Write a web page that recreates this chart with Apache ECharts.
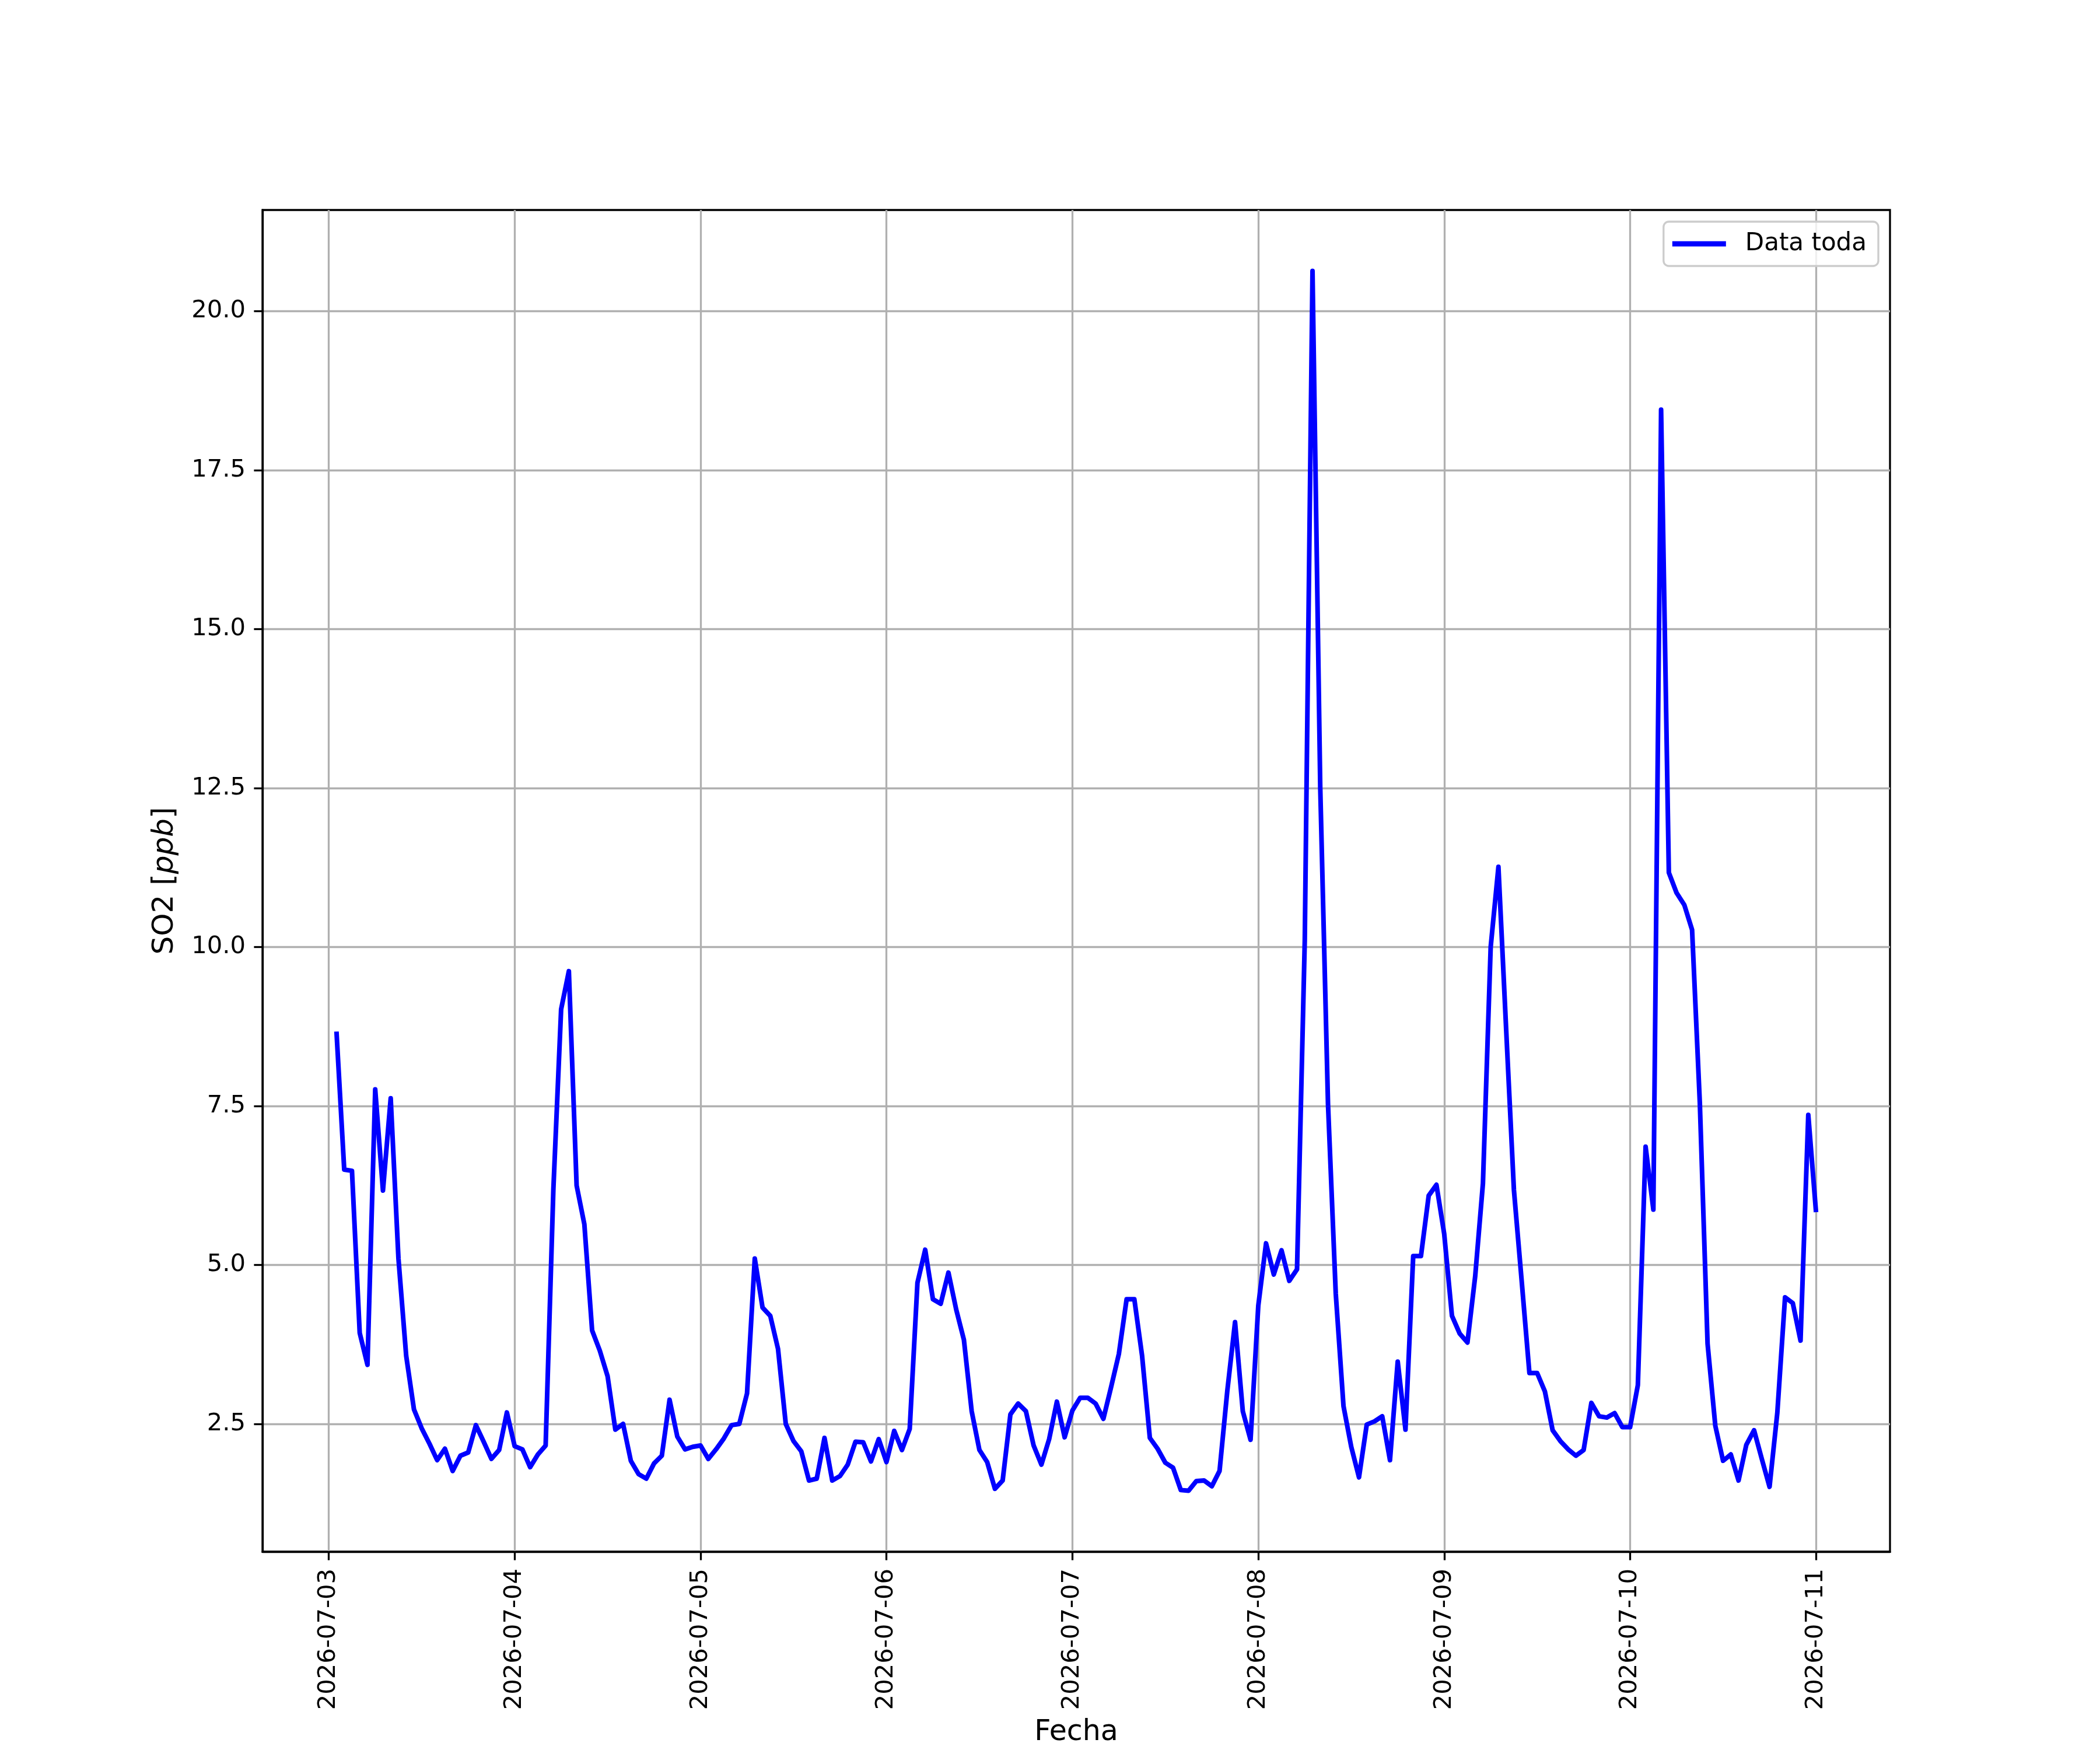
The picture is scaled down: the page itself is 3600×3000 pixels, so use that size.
<!DOCTYPE html>
<html>
<head>
<meta charset="utf-8">
<script src="https://cdn.jsdelivr.net/npm/echarts@6/dist/echarts.min.js"></script>
<style>
html,body{margin:0;padding:0;background:#fff;}
#chart{width:3600px;height:3000px;}
</style>
</head>
<body>
<div id="chart"></div>
<script>
// Hourly SO2 values (ppb), from 2026-07-03 01:00 to 2026-07-11 00:00
const day0703 = [8.67, 6.50, 6.48, 3.93, 3.43, 7.76, 6.17, 7.62, 5.10, 3.57, 2.73, 2.43, 2.19, 1.93, 2.11, 1.76, 2.00, 2.05, 2.48, 2.22, 1.95, 2.09, 2.68, 2.15];
const day0704 = [2.10, 1.82, 2.02, 2.16, 6.19, 9.02, 9.62, 6.25, 5.64, 3.97, 3.65, 3.25, 2.41, 2.50, 1.92, 1.71, 1.64, 1.88, 2.00, 2.88, 2.30, 2.10, 2.14, 2.16];
const day0705 = [1.95, 2.10, 2.27, 2.48, 2.50, 2.98, 5.10, 4.33, 4.20, 3.68, 2.50, 2.23, 2.07, 1.61, 1.64, 2.28, 1.61, 1.68, 1.86, 2.22, 2.21, 1.91, 2.26, 1.90];
const day0706 = [2.39, 2.09, 2.42, 4.72, 5.24, 4.46, 4.39, 4.88, 4.30, 3.82, 2.70, 2.09, 1.90, 1.48, 1.61, 2.65, 2.82, 2.70, 2.16, 1.86, 2.26, 2.85, 2.29, 2.71];
const day0707 = [2.91, 2.91, 2.82, 2.58, 3.08, 3.60, 4.46, 4.46, 3.57, 2.28, 2.11, 1.89, 1.81, 1.46, 1.45, 1.60, 1.61, 1.52, 1.76, 3.02, 4.10, 2.70, 2.25, 4.36];
const day0708 = [5.34, 4.85, 5.23, 4.75, 4.93, 10.10, 20.63, 12.50, 7.53, 4.55, 2.78, 2.14, 1.66, 2.49, 2.54, 2.62, 1.93, 3.48, 2.41, 5.14, 5.14, 6.09, 6.26, 5.49];
const day0709 = [4.20, 3.92, 3.78, 4.82, 6.28, 10.00, 11.26, 8.70, 6.18, 4.75, 3.30, 3.30, 3.01, 2.40, 2.23, 2.10, 2.00, 2.09, 2.83, 2.62, 2.60, 2.67, 2.45, 2.45];
const day0710 = [3.11, 6.86, 5.87, 18.45, 11.17, 10.85, 10.66, 10.27, 7.55, 3.76, 2.47, 1.92, 2.02, 1.61, 2.17, 2.40, 1.95, 1.51, 2.67, 4.49, 4.40, 3.81, 7.36, 5.83];

const so2Values = [].concat(day0703, day0704, day0705, day0706, day0707, day0708, day0709, day0710);
const startTime = Date.UTC(2026, 6, 3, 1, 0, 0);
const HOUR = 3600 * 1000;
const times = so2Values.map((_, i) => startTime + i * HOUR);

const xTickLabels = ['2026-07-03', '2026-07-04', '2026-07-05', '2026-07-06', '2026-07-07', '2026-07-08', '2026-07-09', '2026-07-10', '2026-07-11'];
const yTickValues = [2.5, 5.0, 7.5, 10.0, 12.5, 15.0, 17.5, 20.0];
const seriesName = 'Data toda';

const xTickValues = xTickLabels.map(s => Date.parse(s + 'T00:00:00Z'));

// matplotlib-like 5% margins
const tMin = times[0], tMax = times[times.length - 1];
const xPad = (tMax - tMin) * 0.05;
const vMin = Math.min(...so2Values), vMax = Math.max(...so2Values);
const yPad = (vMax - vMin) * 0.05;

const FONT = 'DejaVu Sans';
const LW = 3.3;

const chart = echarts.init(document.getElementById('chart'), null, {renderer: 'canvas'});
chart.setOption({
  animation: false,
  backgroundColor: '#ffffff',
  grid: {
    left: 450, right: 360, top: 360, bottom: 330,
    show: true, borderColor: '#000', borderWidth: LW, backgroundColor: 'transparent',
    containLabel: false
  },
  legend: {
    show: true,
    data: [seriesName],
    right: 380, top: 380,
    orient: 'vertical',
    icon: 'rect',
    itemWidth: 92, itemHeight: 9,
    padding: [17, 20, 17, 15],
    backgroundColor: 'rgba(255,255,255,0.8)',
    borderColor: '#cccccc', borderWidth: LW, borderRadius: 9,
    textStyle: {fontFamily: FONT, fontSize: 42, color: '#000', lineHeight: 42, padding: [0, 0, 0, 28]}
  },
  xAxis: {
    type: 'value',
    min: tMin - xPad, max: tMax + xPad,
    axisLine: {show: true, onZero: false, lineStyle: {color: '#000', width: LW}},
    axisTick: {show: true, length: 14.6, inside: false, customValues: xTickValues, lineStyle: {color: '#000', width: LW}},
    axisLabel: {
      show: true, customValues: xTickValues, rotate: 90, margin: 29,
      fontFamily: FONT, fontSize: 41.7, color: '#000',
      formatter: v => new Date(v).toISOString().slice(0, 10)
    },
    splitLine: {show: true, lineStyle: {color: '#b0b0b0', width: LW}},
    name: 'Fecha', nameLocation: 'middle', nameGap: 286,
    nameTextStyle: {fontFamily: FONT, fontSize: 49, color: '#000'}
  },
  yAxis: {
    type: 'value',
    min: vMin - yPad, max: vMax + yPad,
    axisLine: {show: true, onZero: false, lineStyle: {color: '#000', width: LW}},
    axisTick: {show: true, length: 14.6, inside: false, customValues: yTickValues, lineStyle: {color: '#000', width: LW}},
    axisLabel: {
      show: true, customValues: yTickValues, margin: 29,
      fontFamily: FONT, fontSize: 41.7, color: '#000',
      formatter: v => v.toFixed(1)
    },
    splitLine: {show: true, lineStyle: {color: '#b0b0b0', width: LW}},
    name: '{n|SO2 [}{i|ppb}{n|]}', nameLocation: 'middle', nameGap: 142, nameRotate: 90,
    nameTextStyle: {
      fontFamily: FONT, fontSize: 50, color: '#000',
      rich: {
        n: {fontFamily: FONT, fontSize: 50, color: '#000'},
        i: {fontFamily: FONT, fontSize: 50, fontStyle: 'italic', color: '#000'}
      }
    }
  },
  series: [{
    name: seriesName,
    type: 'line',
    data: times.map((t, i) => [t, so2Values[i]]),
    showSymbol: false,
    symbol: 'none',
    lineStyle: {color: '#0000ff', width: 8, join: 'round', cap: 'butt'},
    itemStyle: {color: '#0000ff'},
    z: 3
  }]
});
</script>
</body>
</html>
